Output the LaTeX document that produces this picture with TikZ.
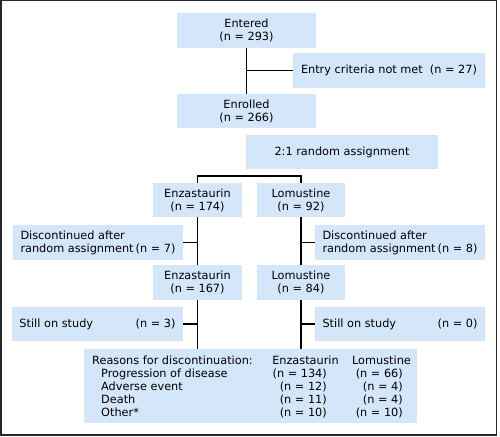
\documentclass[tikz,border=0pt]{standalone}
\usepackage{fontspec}
\setmainfont{DejaVu Sans}
\definecolor{boxblue}{HTML}{D4E7FA}
\begin{document}
\begin{tikzpicture}[x=1pt,y=-1pt,
  font=\fontsize{11.3}{13}\selectfont,
  box/.style={fill=boxblue, inner sep=0pt, align=center},
  ln/.style={line width=1.8pt, black},
  txt/.style={inner sep=0pt}]
\useasboundingbox (0,0) rectangle (500,436);
\draw[line width=1.5pt, black!85] (0.75,0.75) rectangle (496.5,434.75);

\node[box, minimum width=139pt, minimum height=35pt] (entered) at (246.5,30.5) {Entered\\(n = 293)};
\node[box, minimum width=192pt, minimum height=35pt] (entry) at (389,70.5) {\makebox[176pt]{Entry criteria not met\hfill(n = 27)}};
\node[box, minimum width=139pt, minimum height=34pt] (enrolled) at (246.5,111) {Enrolled\\(n = 266)};
\node[box, minimum width=192pt, minimum height=34pt] (rand) at (342,152) {2:1 random assignment};
\node[box, minimum width=89pt, minimum height=34pt] (enzA) at (197.5,200) {Enzastaurin\\(n = 174)};
\node[box, minimum width=88pt, minimum height=34pt] (lomA) at (301,200) {Lomustine\\(n = 92)};
\node[box, minimum width=170pt, minimum height=35pt] (discL) at (98,242.5) {\parbox{155pt}{Discontinued after\\random assignment\hfill(n = 7)}};
\node[box, minimum width=170pt, minimum height=35pt] (discR) at (400,242.5) {\parbox{155pt}{Discontinued after\\random assignment\hfill(n = 8)}};
\node[box, minimum width=89pt, minimum height=35pt] (enzB) at (197.5,282.5) {Enzastaurin\\(n = 167)};
\node[box, minimum width=88pt, minimum height=35pt] (lomB) at (301,282.5) {Lomustine\\(n = 84)};
\node[box, minimum width=171pt, minimum height=34pt] (stillL) at (97.5,324) {\makebox[156pt]{Still on study\hfill(n = 3)}};
\node[box, minimum width=170pt, minimum height=34pt] (stillR) at (400,324) {\makebox[155pt]{Still on study\hfill(n = 0)}};
\node[box, minimum width=333pt, minimum height=74pt] (reasons) at (250.5,386) {};

% reasons contents
\node[txt, anchor=base west] (r0) at (92,364) {Reasons for discontinuation:};
\node[txt, anchor=base west] (r1) at (101,377) {Progression of disease};
\node[txt, anchor=base west] (r2) at (101,390) {Adverse event};
\node[txt, anchor=base west] (r3) at (101,403) {Death};
\node[txt, anchor=base west] (r4) at (101,416) {Other*};
\node[txt, anchor=base] (eh) at (305.5,364) {Enzastaurin};
\node[txt, anchor=base east] (e1) at (327,377) {(n = 134)};
\node[txt, anchor=base east] (e2) at (327,390) {(n = 12)};
\node[txt, anchor=base east] (e3) at (327,403) {(n = 11)};
\node[txt, anchor=base east] (e4) at (327,416) {(n = 10)};
\node[txt, anchor=base] (lh) at (381.5,364) {Lomustine};
\node[txt, anchor=base east] (l1) at (403,377) {(n = 66)};
\node[txt, anchor=base east] (l2) at (403,390) {(n = 4)};
\node[txt, anchor=base east] (l3) at (403,403) {(n = 4)};
\node[txt, anchor=base east] (l4) at (403,416) {(n = 10)};

% connectors
\draw[ln] (entered.south) -- (enrolled.north);
\draw[ln] (entered.south |- entry.west) -- (entry.west);
\coordinate (split) at (249,176);
\draw[ln] (enzA.north) |- (split) -| (lomA.north);
\draw[ln] (enzA.south) -- (enzB.north);
\draw[ln] (lomA.south) -- (lomB.north);
\draw[ln] (enzA.south |- discL.east) -- (discL.east);
\draw[ln] (lomA.south |- discR.west) -- (discR.west);
\draw[ln] (enzB.south) -- (enzB.south |- reasons.north);
\draw[ln] (lomB.south) -- (lomB.south |- reasons.north);
\draw[ln] (enzB.south |- stillL.east) -- (stillL.east);
\draw[ln] (lomB.south |- stillR.west) -- (stillR.west);
\end{tikzpicture}
\end{document}
